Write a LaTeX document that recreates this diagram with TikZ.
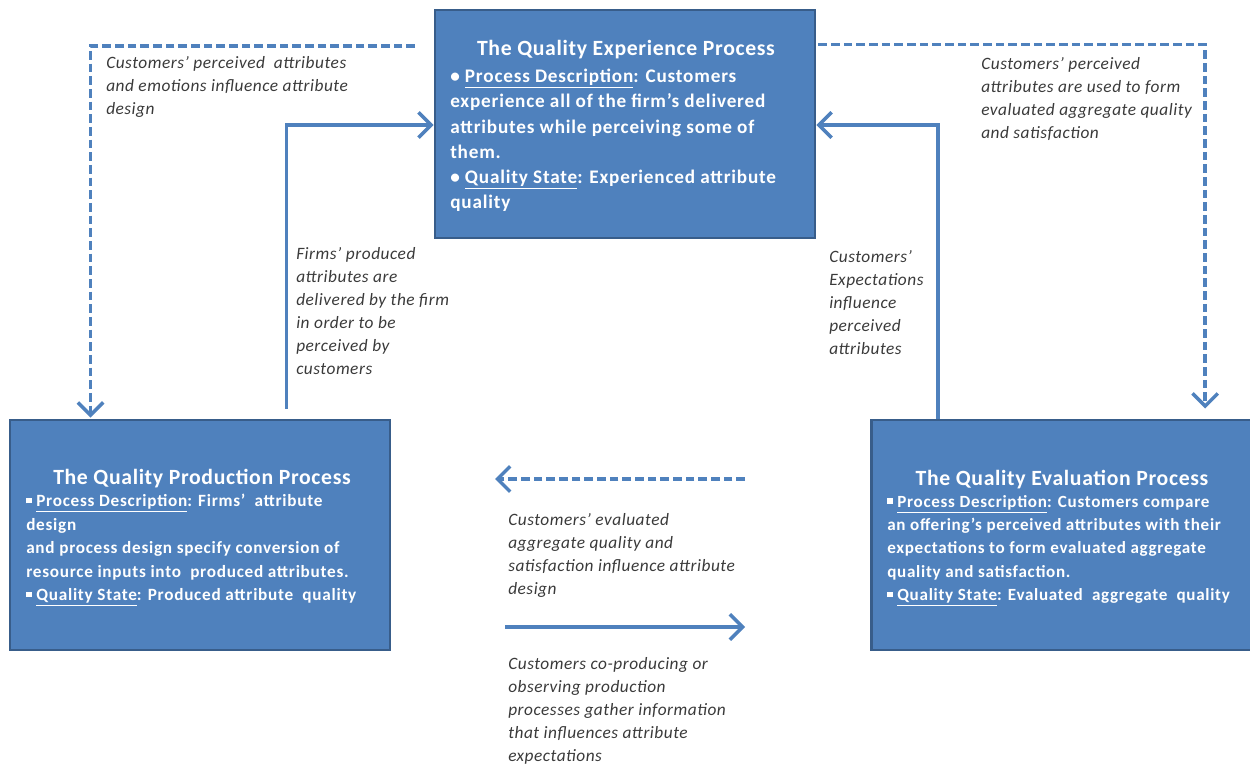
\documentclass[tikz,border=0pt]{standalone}
\usepackage{fontspec}
\setmainfont{Carlito}
\newfontfamily\ttlfont[LetterSpace=3]{Carlito}
\newfontfamily\bodyfont[LetterSpace=4.2]{Carlito}
\newfontfamily\labfont[LetterSpace=3]{Carlito}
\usetikzlibrary{arrows.meta,calc}
\definecolor{boxfill}{HTML}{4F81BD}
\definecolor{boxedge}{HTML}{385D8A}
\definecolor{linec}{HTML}{4F81BD}
\definecolor{labc}{HTML}{3A3A3A}
\newcommand{\sqb}{\raisebox{0.2em}{\rule{0.32em}{0.32em}}}
\tikzset{
  procbox/.style={rectangle, fill=boxfill, draw=boxedge, line width=2.2pt, inner sep=0},
  ttl/.style={text=white, font=\ttlfont\fontsize{16.3}{19}\selectfont\bfseries, inner sep=0},
  body/.style={text=white, align=left, anchor=north west, inner sep=0},
  lab/.style={text=labc, align=left, anchor=north west, inner sep=0, font=\labfont\fontsize{13}{17.25}\selectfont\itshape},
  sline/.style={draw=linec, line width=2.6pt, -{Straight Barb[length=9.5pt,width=19pt]}},
  dline/.style={sline, dash pattern=on 6.5pt off 3pt},
}
\begin{document}
\begin{tikzpicture}[x=0.75pt,y=-0.75pt]
\useasboundingbox (0,0) rectangle (1250,767);
\clip (0,0) rectangle (1250,767);
% boxes
\node[procbox, minimum width=285pt, minimum height=171pt] (exp) at (625,124) {};
\node[procbox, minimum width=285pt, minimum height=172.5pt] (prod) at (200,535) {};
\node[procbox, minimum width=290pt, minimum height=172.5pt] (eval) at (1065,535) {};
% titles
\node[ttl] (expt) at (626,50) {The Quality Experience Process};
\node[ttl] (prodt) at (202,479) {The Quality Production Process};
\node[ttl] (evalt) at (1062,480) {The Quality Evaluation Process};
% bodies
\node[body, font=\bodyfont\fontsize{14.4}{18.9}\selectfont\bfseries] (expb) at (450,69) {%
• \underline{Process Description}: Customers\\
experience all of the firm’s delivered\\
attributes while perceiving some of\\
them.\\
• \underline{Quality State}: Experienced attribute\\
quality};
\node[body, font=\bodyfont\fontsize{12.9}{17.6}\selectfont\bfseries] (prodb) at (26,494) {%
\sqb\ \underline{Process Description}: Firms’ \ attribute\\
design\\
and process design specify conversion of\\
resource inputs into \ produced attributes.\\
\sqb\ \underline{Quality State}: Produced attribute \ quality};
\node[body, font=\bodyfont\fontsize{12.8}{17.5}\selectfont\bfseries] (evalb) at (887,495) {%
\sqb\ \underline{Process Description}: Customers compare\\
an offering’s perceived attributes with their\\
expectations to form evaluated aggregate\\
quality and satisfaction.\\
\sqb\ \underline{Quality State}: Evaluated \ aggregate \ quality};
% labels
\node[lab] (l1) at (106,56) {Customers’ perceived \ attributes\\ and emotions influence attribute\\ design};
\node[lab] (l2) at (981,57) {Customers’ perceived\\ attributes are used to form\\ evaluated aggregate quality\\ and satisfaction};
\node[lab] (l3) at (296,247) {Firms’ produced\\ attributes are\\ delivered by the firm\\ in order to be\\ perceived by\\ customers};
\node[lab] (l4) at (829,250) {Customers’\\ Expectations\\ influence\\ perceived\\ attributes};
\node[lab] (l5) at (508,513) {Customers’ evaluated\\ aggregate quality and\\ satisfaction influence attribute\\ design};
\node[lab] (l6) at (508,657) {Customers co-producing or\\ observing production\\ processes gather information\\ that influences attribute\\ expectations};
% free-end coordinates
\coordinate (dl) at (415,46);
\coordinate (dr) at ($(exp.north east)+(2,36)$);
\coordinate (ml1) at (745,479);
\coordinate (ml2) at (495,479);
\coordinate (mr1) at (505,627);
\coordinate (mr2) at (745,627);
% connectors
\draw[dline] (dl) -| ($(prod.north west)+(82,-1)$);
\draw[dline] (dr) -| ($(eval.north west)+(335,-10)$);
\draw[sline] ($(prod.north west)+(278,-10)$) |- ($(exp.west)+(0,1)$);
\draw[sline] ($(eval.north west)+(68,0)$) |- ($(exp.east)+(0,1)$);
\draw[dline] (ml1) -- (ml2);
\draw[sline] (mr1) -- (mr2);
\end{tikzpicture}
\end{document}
